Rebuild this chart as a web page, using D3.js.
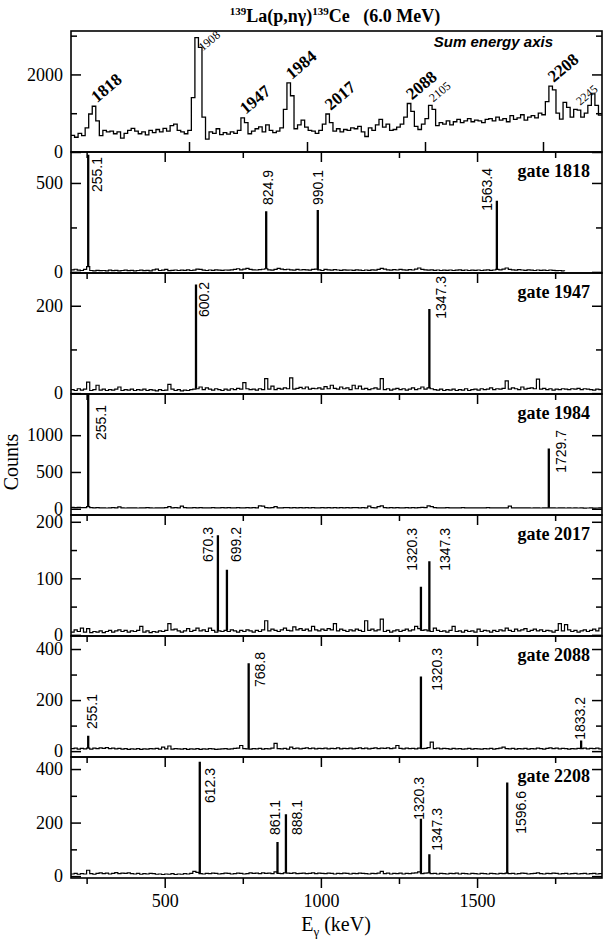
<!DOCTYPE html>
<html><head><meta charset="utf-8">
<script src="https://cdn.jsdelivr.net/npm/d3@7"></script>
<style>body{margin:0;background:#fff}svg{display:block}
.serif{font-family:"Liberation Serif","Times New Roman",Times,serif}
.sans{font-family:"Liberation Sans",Arial,Helvetica,sans-serif}</style>
</head><body><svg id="c" width="605" height="945"></svg>
<script>
// ---------------- DATA ----------------
const X_DOMAIN = [200, 1900];
const SUM_DOMAIN = [1800, 2250];
const xTicksMajor = [500, 1000, 1500];
const xTicksMinor = [250, 750, 1250, 1750];
const sumTicks = [1900, 2000, 2100, 2200];

// sum-energy spectrum (3 keV bins from 1800 keV)
const sumStart = 1800, sumBin = 3;
const sumCounts = [
 430,380,480,420,620,980,1180,800,420,560,
 520,540,470,520,360,480,560,610,540,470,
 520,440,560,500,580,520,610,540,680,720,
 560,520,470,560,1400,2950,2700,900,330,520,
 480,600,450,500,460,520,480,560,880,760,
 470,540,600,650,520,700,560,500,540,620,
 1100,1780,1450,600,700,820,640,560,540,480,
 560,720,980,760,540,600,520,580,560,620,
 600,660,520,400,620,560,700,840,640,720,
 560,580,640,720,900,1250,1050,660,580,720,
 860,1200,1100,680,760,720,800,700,780,840,
 760,800,860,780,820,800,760,840,860,800,
 900,820,860,780,940,840,880,960,820,900,
 940,880,1000,960,1300,1700,1600,1000,850,1280,
 1150,900,1100,1080,900,1000,1200,1500,1200,950
];
const sumYMajor = [0, 2000];
const sumYMinor = [1000, 3000];
const sumLabels = ['1818','1908','1947','1984','2017','2088','2105','2208','2245'];
const sumLabelBold = [true,false,true,true,true,true,false,true,false];

// gated spectra (10 keV bins from 200 keV)
const binStart = 200, binWidth = 10;
const gateNames = ['gate 1818','gate 1947','gate 1984','gate 2017','gate 2088','gate 2208'];
const g1818 = [
 12,15,10,8,14,30,8,6,9,7, 8,6,10,7,9,6,8,10,7,9,
 6,8,10,7,9,6,12,16,8,10, 14,7,9,11,8,10,9,12,8,10,
 16,14,10,8,11,9,12,10,9,11, 10,12,14,18,12,16,20,14,12,11,
 13,15,18,12,10,14,20,16,13,15, 12,10,14,11,13,12,10,14,16,12,
 8,14,12,10,13,11,9,12,10,11, 9,12,10,8,11,9,12,10,14,20,
 16,12,10,13,11,14,12,10,13,11, 16,22,14,12,10,12,9,11,8,10,
 9,11,8,10,12,9,11,8,10,9, 11,8,10,12,9,11,14,12,16,22,
 14,12,10,13,11,9,12,10,8,11, 9,10,8,11,9,7,8,6,5,null,
 null,null,null,null,null,null,null,null,null,null
];
const g1947 = [
 8,6,10,7,9,25,6,8,18,7, 9,6,8,7,9,14,6,8,7,9,
 6,8,7,9,6,8,7,5,8,6, 7,20,9,6,8,5,7,6,8,9,
 10,14,8,12,9,7,10,8,6,9, 7,10,8,11,9,24,10,8,9,7,
 10,8,33,9,16,8,11,9,12,10, 35,9,11,13,10,14,9,11,10,12,
 9,15,10,18,11,9,14,10,12,8, 18,10,16,9,11,8,10,12,9,33,
 8,10,7,9,11,8,10,7,9,12, 8,10,14,9,12,10,8,7,9,6,
 8,7,9,6,8,7,10,6,8,9, 7,10,8,9,12,8,10,9,11,28,
 9,12,10,8,14,9,11,12,10,32, 9,11,8,10,7,9,8,10,9,8,
 10,9,11,8,10,9,8,7,9,8
];
const g1984 = [
 20,15,18,14,16,30,15,12,14,11, 13,10,12,14,11,25,12,10,13,11,
 12,10,13,11,14,12,10,13,11,12, 14,30,12,15,13,35,14,12,13,15,
 12,14,13,11,12,14,12,13,15,12, 14,13,11,14,12,13,15,12,14,13,
 40,35,14,12,15,30,13,12,14,15, 13,14,12,15,13,14,12,15,13,12,
 14,13,15,12,14,13,15,12,14,13, 15,14,12,15,13,35,14,12,30,40,
 14,13,15,12,14,13,12,14,13,15, 12,14,20,15,40,30,14,12,13,12,
 14,12,13,11,12,14,12,13,11,12, 13,11,12,14,12,11,13,12,11,13,
 35,12,11,12,13,11,12,10,11,12, 10,11,12,12,11,10,12,11,10,11,
 10,12,10,11,9,10,11,9,10,11
];
const g2017 = [
 5,9,6,12,5,11,4,6,5,7, 4,6,8,5,7,9,6,8,5,7,
 6,8,15,5,7,4,6,5,7,6, 8,20,9,10,7,5,7,11,6,8,
 12,7,9,6,12,8,5,7,6,8, 6,9,7,5,8,6,9,7,5,8,
 6,9,25,7,10,8,6,9,12,8, 7,14,9,11,8,10,7,15,9,7,
 10,8,11,9,20,7,10,8,6,9, 7,10,8,6,25,8,10,7,9,28,
 6,8,5,7,9,6,8,10,7,9, 15,11,8,9,7,6,12,8,6,7,
 5,8,15,6,7,5,8,6,7,5, 10,6,8,7,5,8,6,9,7,12,
 8,6,10,7,9,11,6,8,10,7, 9,6,8,7,5,8,20,7,18,9,
 6,8,5,7,9,6,8,10,7,12
];
const g2088 = [
 10,12,8,11,9,12,8,12,10,13, 11,14,10,12,9,11,8,10,7,9,
 8,10,7,9,8,10,9,11,8,16, 9,20,8,10,9,8,10,7,9,8,
 10,7,9,8,10,9,7,8,9,10, 8,9,11,12,22,10,9,8,10,9,
 11,8,10,9,12,30,10,9,11,8, 16,10,12,9,11,13,10,12,9,11,
 10,12,9,11,10,13,9,11,10,12, 9,11,13,10,12,9,11,13,10,12,
 11,13,10,12,22,11,9,12,10,11, 9,12,10,11,14,35,10,12,9,11,
 10,8,11,9,10,8,9,11,8,10, 9,8,10,9,11,8,10,12,16,10,
 9,11,8,10,9,11,8,10,9,12, 10,8,11,13,10,12,9,11,10,8,
 10,9,11,10,12,9,11,10,12,9
];
const g2208 = [
 8,10,7,9,8,22,9,7,10,12, 9,11,8,10,13,9,11,10,12,9,
 8,10,7,9,8,10,9,7,8,6, 8,7,9,6,8,7,9,8,10,18,
 14,9,8,10,9,11,10,8,9,11, 10,8,9,11,10,8,9,12,10,11,
 9,12,10,11,9,16,10,9,12,11, 10,12,9,10,11,9,10,12,9,11,
 10,9,11,10,8,10,9,11,10,8, 10,9,11,10,9,8,10,9,11,18,
 9,11,8,10,9,11,8,10,9,11, 12,16,9,11,12,9,10,8,10,9,
 8,10,9,11,8,10,9,8,10,9, 8,10,9,8,10,9,8,10,9,11,
 9,10,8,9,11,10,8,9,10,12, 9,8,10,9,11,10,8,9,10,8,
 9,10,8,9,10,8,9,10,8,9
];
// peaks: [energy keV, counts, label]
const p1818 = [[255.1,655,'255.1'],[824.9,338,'824.9'],[990.1,344,'990.1'],[1563.4,397,'1563.4']];
const p1947 = [[600.2,247,'600.2'],[1347.3,191,'1347.3']];
const p1984 = [[255.1,2000,'255.1'],[1729.7,811,'1729.7']];
const p2017 = [[670.3,175,'670.3'],[699.2,114,'699.2'],[1320.3,84,'1320.3'],[1347.3,129,'1347.3']];
const p2088 = [[255.1,58,'255.1'],[768.8,342,'768.8'],[1320.3,290,'1320.3'],[1833.2,39,'1833.2']];
const p2208 = [[612.3,425,'612.3'],[861.1,125,'861.1'],[888.1,229,'888.1'],[1320.3,212,'1320.3'],[1347.3,79,'1347.3'],[1596.6,347,'1596.6']];

const gateCounts = [g1818,g1947,g1984,g2017,g2088,g2208];
const gatePeaks = [p1818,p1947,p1984,p2017,p2088,p2208];
const gateYDomains = [[-6,674],[-2,275],[-85,1560],[-2,212],[-23,451],[-7,445]];
const gateYMajor = [[0,500],[0,200],[0,500,1000],[0,100,200],[0,200,400],[0,200,400]];
const gateYMinor = [[250],[100],[],[50,150],[100,300],[100,300]];
const sumYDomain = [0, 3120];

// ---------------- LAYOUT (not data) ----------------
const L = 71, R = 602, PH = 121;
const tops = [31,152,273,394,515,636,757];
// label placement: [dx from peak px, top of text rel. to panel top]
const LABEL_POS = {
 '0:255.1':[9,5],'0:824.9':[2,18],'0:990.1':[0,18],'0:1563.4':[-10,16],
 '1:600.2':[8,9],'1:1347.3':[12,3],
 '2:255.1':[13,11],'2:1729.7':[12,36],
 '3:670.3':[-10,12],'3:699.2':[9,12],'3:1320.3':[-9,13],'3:1347.3':[16,13],
 '4:255.1':[4,58],'4:768.8':[11,16],'4:1320.3':[16,12],'4:1833.2':[-1,61],
 '5:612.3':[10,11],'5:861.1':[-2,43],'5:888.1':[11,43],'5:1320.3':[-2,20],'5:1347.3':[8,51],'5:1596.6':[14,34]
};
const SUM_LABEL_OFF = {'1908':[6,14],'2245':[-13,12]};

const svg = d3.select('#c');
const x = d3.scaleLinear().domain(X_DOMAIN).range([L,R]);
const xs = d3.scaleLinear().domain(SUM_DOMAIN).range([L,R]);
const fmt = d3.format('d');

function styleAxis(g, fs){
  g.attr('font-family', null).attr('font-size', null);
  g.select('.domain').remove();
  g.selectAll('line').attr('stroke','#000').attr('stroke-width',1.5);
  g.selectAll('text').attr('class','serif').style('font-size',(fs||18)+'px').attr('fill','#000');
}
function yAxes(y, major, minor){
  const gl = svg.append('g').attr('transform',`translate(${L},0)`)
    .call(d3.axisLeft(y).tickValues(major).tickSize(-10).tickPadding(8).tickFormat(fmt));
  styleAxis(gl);
  const gl2 = svg.append('g').attr('transform',`translate(${L},0)`)
    .call(d3.axisLeft(y).tickValues(minor).tickSize(-6).tickFormat(''));
  styleAxis(gl2);
  const gr = svg.append('g').attr('transform',`translate(${R},0)`)
    .call(d3.axisRight(y).tickValues(major).tickSize(-10).tickFormat(''));
  styleAxis(gr);
  const gr2 = svg.append('g').attr('transform',`translate(${R},0)`)
    .call(d3.axisRight(y).tickValues(minor).tickSize(-6).tickFormat(''));
  styleAxis(gr2);
}
function clipFor(i, top){
  svg.append('clipPath').attr('id','cp'+i).append('rect')
    .attr('x',L).attr('y',top).attr('width',R-L).attr('height',PH);
  return `url(#cp${i})`;
}

// ---------- Title ----------
const title = svg.append('text').attr('class','serif').attr('x',335).attr('y',22).attr('text-anchor','middle')
  .attr('font-weight','bold').style('font-size','18px').style('white-space','pre');
title.append('tspan').style('font-size','11px').attr('dy',-7).text('139');
title.append('tspan').attr('dy',7).text('La(p,nγ)');
title.append('tspan').style('font-size','11px').attr('dy',-7).text('139');
title.append('tspan').attr('dy',7).text('Ce   (6.0 MeV)');

// ---------- Sum panel ----------
{
  const top = tops[0];
  const y = d3.scaleLinear().domain(sumYDomain).range([top+PH, top]);
  const pts = sumCounts.map((v,i)=>[sumStart+i*sumBin, v]);
  pts.push([sumStart+sumCounts.length*sumBin, sumCounts[sumCounts.length-1]]);
  const line = d3.line().x(d=>xs(d[0])).y(d=>y(d[1])).curve(d3.curveStepAfter);
  svg.append('path').attr('d',line(pts)).attr('fill','none').attr('stroke','#000')
    .attr('stroke-width',1.3).attr('clip-path',clipFor(0,top));
  yAxes(y, sumYMajor, sumYMinor);
  const gb = svg.append('g').attr('transform',`translate(0,${top+PH})`)
    .call(d3.axisBottom(xs).tickValues(sumTicks).tickSize(-10).tickFormat(''));
  styleAxis(gb);
  sumLabels.forEach((t,k)=>{
    const e = +t;
    let best = 0, be = e;
    sumCounts.forEach((v,i)=>{const b=sumStart+i*sumBin; if(b>=e-6&&b<=e+3&&v>best){best=v;be=b+sumBin/2;}});
    const off = SUM_LABEL_OFF[t] || [3,-3];
    const px = xs(be)+off[0], py = y(best)+off[1];
    svg.append('text').attr('class','serif').attr('transform',`translate(${px},${py}) rotate(-40)`)
      .style('font-size',(sumLabelBold[k]?17:12)+'px')
      .attr('font-weight',sumLabelBold[k]?'bold':'normal').text(t);
  });
  svg.append('text').attr('class','sans').attr('x',553).attr('y',47).attr('text-anchor','end')
    .attr('font-weight','bold').attr('font-style','italic')
    .style('font-size','15px').text('Sum energy axis');
  svg.append('rect').attr('x',L).attr('y',top).attr('width',R-L).attr('height',PH)
    .attr('fill','none').attr('stroke','#000').attr('stroke-width',1.6);
}

// ---------- Gate panels ----------
gateNames.forEach((name, gi)=>{
  const top = tops[gi+1];
  const y = d3.scaleLinear().domain(gateYDomains[gi]).range([top+PH, top]);
  const data = gateCounts[gi];
  const pts = data.map((v,i)=>[binStart+i*binWidth, v]);
  pts.push([binStart+data.length*binWidth, data[data.length-1]]);
  const line = d3.line().defined(d=>d[1]!=null).x(d=>x(d[0])).y(d=>y(d[1])).curve(d3.curveStepAfter);
  const cp = clipFor(gi+1, top);
  svg.append('path').attr('d',line(pts)).attr('fill','none').attr('stroke','#000')
    .attr('stroke-width',1.2).attr('clip-path',cp);
  gatePeaks[gi].forEach(p=>{
    const idx = Math.floor((p[0]-binStart)/binWidth);
    const base = data[idx] == null ? 0 : data[idx];
    const d = `M${x(p[0]-1.6)},${y(base)}V${y(p[1])}H${x(p[0]+1.6)}V${y(base)}`;
    svg.append('path').attr('d',d).attr('fill','none').attr('stroke','#000')
      .attr('stroke-width',1.3).attr('clip-path',cp);
    const pos = LABEL_POS[gi+':'+p[2]] || [8,10];
    svg.append('text').attr('class','sans').attr('transform',`translate(${x(p[0])+pos[0]},${top+pos[1]}) rotate(-90)`)
      .attr('text-anchor','end').attr('dominant-baseline','central')
      .style('font-size','14px').text(p[2]);
  });
  yAxes(y, gateYMajor[gi], gateYMinor[gi]);
  const gt = svg.append('g').attr('transform',`translate(0,${top})`)
    .call(d3.axisTop(x).tickValues(xTicksMajor).tickSize(-10).tickFormat(''));
  styleAxis(gt);
  const gt2 = svg.append('g').attr('transform',`translate(0,${top})`)
    .call(d3.axisTop(x).tickValues(xTicksMinor).tickSize(-6).tickFormat(''));
  styleAxis(gt2);
  svg.append('text').attr('class','serif').attr('x',590).attr('y',top+25).attr('text-anchor','end')
    .attr('font-weight','bold').style('font-size','18px').text(name);
  svg.append('rect').attr('x',L).attr('y',top).attr('width',R-L).attr('height',PH)
    .attr('fill','none').attr('stroke','#000').attr('stroke-width',1.6);
});

// ---------- bottom x axis ----------
{
  const yb = tops[6]+PH;
  const gb = svg.append('g').attr('transform',`translate(0,${yb})`)
    .call(d3.axisBottom(x).tickValues(xTicksMajor).tickSize(10).tickPadding(6).tickFormat(fmt));
  styleAxis(gb);
  const gb2 = svg.append('g').attr('transform',`translate(0,${yb})`)
    .call(d3.axisBottom(x).tickValues(xTicksMinor).tickSize(6).tickFormat(''));
  styleAxis(gb2);
  const xl = svg.append('text').attr('class','serif').attr('x',336).attr('y',931).attr('text-anchor','middle')
    .style('font-size','20px');
  xl.append('tspan').text('E');
  xl.append('tspan').style('font-size','13px').attr('dy',5).text('γ');
  xl.append('tspan').attr('dy',-5).text(' (keV)');
  svg.append('text').attr('class','serif').attr('transform','translate(18,462) rotate(-90)').attr('text-anchor','middle')
    .style('font-size','20px').text('Counts');
}
</script></body></html>
